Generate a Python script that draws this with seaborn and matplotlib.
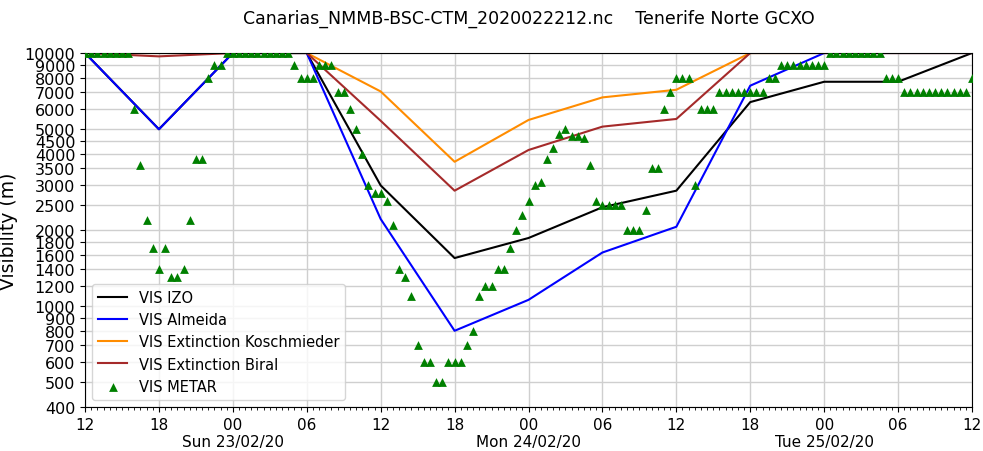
"""
Visibility forecast vs METAR observations at Tenerife Norte (GCXO).
Writes out.png.
"""
import matplotlib
matplotlib.use("Agg")
import matplotlib.dates as mdates
import matplotlib.pyplot as plt
import matplotlib.ticker as mticker
import numpy as np
import pandas as pd
import seaborn as sns

# model output, every 6 h from 2020-02-22 12Z
model_start = "2020-02-22 12:00"
vis_izo = [10000, 5000, 10000, 10000, 3000, 1550, 1860, 2460, 2860, 6400, 7700, 7700, 10000]
vis_almeida = [10000, 5000, 10000, 10000, 2210, 800, 1060, 1630, 2060, 7430, 10000, 10000, 10000]
vis_koschmieder = [10000, 10000, 10000, 10000, 7050, 3720, 5440, 6680, 7160, 10000, 10000, 10000, 10000]
vis_biral = [10000, 9700, 10000, 10000, 5400, 2860, 4140, 5120, 5490, 10000, 10000, 10000, 10000]

# METAR, every 30 min from 2020-02-22 12Z (one row = 6 h)
vis_metar = [
    10000, 10000, 10000, 10000, 10000, 10000, 10000, 10000, 6000, 3600, 2200, 1700,
    1400, 1700, 1300, 1300, 1400, 2200, 3800, 3800, 8000, 9000, 9000, 10000,
    10000, 10000, 10000, 10000, 10000, 10000, 10000, 10000, 10000, 10000, 9000, 8000,
    8000, 8000, 9000, 9000, 9000, 7000, 7000, 6000, 5000, 4000, 3000, 2800,
    2800, 2600, 2100, 1400, 1300, 1100, 700, 600, 600, 500, 500, 600,
    600, 600, 700, 800, 1100, 1200, 1200, 1400, 1400, 1700, 2000, 2300,
    2600, 3000, 3100, 3800, 4200, 4800, 5000, 4700, 4700, 4600, 3600, 2600,
    2500, 2500, 2500, 2500, 2000, 2000, 2000, 2400, 3500, 3500, 6000, 7000,
    8000, 8000, 8000, 3000, 6000, 6000, 6000, 7000, 7000, 7000, 7000, 7000,
    7000, 7000, 7000, 8000, 8000, 9000, 9000, 9000, 9000, 9000, 9000, 9000,
    9000, 10000, 10000, 10000, 10000, 10000, 10000, 10000, 10000, 10000, 8000, 8000,
    8000, 7000, 7000, 7000, 7000, 7000, 7000, 7000, 7000, 7000, 7000, 7000,
    8000,
]

y_ticks = [400, 500, 600, 700, 800, 900, 1000, 1200, 1400, 1600, 1800, 2000, 2500,
           3000, 3500, 4000, 4500, 5000, 6000, 7000, 8000, 9000, 10000]

model_times = pd.date_range(model_start, periods=len(vis_izo), freq="6h")
metar_times = pd.date_range(model_start, periods=len(vis_metar), freq="30min")

fig, ax = plt.subplots(figsize=(9.83, 4.52), dpi=100)
fig.subplots_adjust(left=0.0865, right=0.9888, top=0.8805, bottom=0.0973)

series = [
    ("VIS IZO", vis_izo, "black"),
    ("VIS Almeida", vis_almeida, "blue"),
    ("VIS Extinction Koschmieder", vis_koschmieder, "darkorange"),
    ("VIS Extinction Biral", vis_biral, "brown"),
]
for name, vals, col in series:
    sns.lineplot(x=model_times, y=vals, ax=ax, color=col, lw=1.5, label=name)
sns.scatterplot(x=metar_times, y=vis_metar, ax=ax, marker="^", color="green",
                s=40, linewidth=0, label="VIS METAR", zorder=3)

ax.set_yscale("log")
ax.set_ylim(400, 10000)
ax.yaxis.set_major_locator(mticker.FixedLocator(y_ticks))
ax.yaxis.set_major_formatter(mticker.FixedFormatter([str(v) for v in y_ticks]))
ax.yaxis.set_minor_locator(mticker.NullLocator())
ax.set_ylabel("Visibility (m)", fontsize=13.5)
ax.yaxis.set_label_coords(-0.0755, 0.5)

ax.set_xlim(pd.Timestamp("2020-02-22 12:00"), pd.Timestamp("2020-02-25 12:00"))


def fmt_time(x, pos=None):
    t = mdates.num2date(x)
    if t.hour == 0:
        return t.strftime("00\n%a %d/%m/%y")
    return t.strftime("%H")


ax.xaxis.set_major_locator(mdates.HourLocator(byhour=[0, 6, 12, 18]))
ax.xaxis.set_major_formatter(mticker.FuncFormatter(fmt_time))
ax.xaxis.set_minor_locator(mdates.MinuteLocator(byminute=[0, 30]))
ax.set_xlabel("")
ax.tick_params(axis="y", labelsize=11.5)
ax.tick_params(axis="x", labelsize=11)

ax.grid(True, which="major", color="#cfcfcf", lw=1.0)
ax.legend(loc="lower left", fontsize=10.5)
ax.set_title("Canarias_NMMB-BSC-CTM_2020022212.nc    Tenerife Norte GCXO",
             fontsize=12.5, pad=22)

fig.savefig("out.png", dpi=100)
